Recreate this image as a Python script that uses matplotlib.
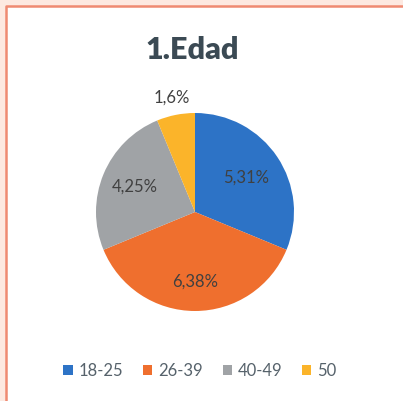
import numpy as np
import matplotlib
matplotlib.use("Agg")
import matplotlib.pyplot as plt
from matplotlib.patches import Rectangle, Patch
from matplotlib.lines import Line2D

plt.rcParams['font.family'] = ['Lato', 'DejaVu Sans']

# data
categories = ['18-25', '26-39', '40-49', '50']
sizes = [5.31, 6.38, 4.25, 1.06]          # slice sizes as measured from the angles
pct_labels = ['5,31%', '6,38%', '4,25%', '1,6%']
colors = ['#2d73c6', '#ef6f2e', '#a0a3a6', '#fbb42a']
label_dist = [0.62, 0.70, 0.66, 1.18]

W, H = 403, 401
fig = plt.figure(figsize=(W / 100, H / 100), dpi=100)
fig.patch.set_facecolor('#fde9e1')

# white panel, salmon border only on top and left
x0, y0 = 6 / W, 1 - 6 / H
fig.patches.append(Rectangle((x0, 0), 1 - x0, y0, transform=fig.transFigure,
                             facecolor='white', edgecolor='none', zorder=-5))
fig.lines.append(Line2D([x0, x0, 1], [0, y0, y0], transform=fig.transFigure,
                        color='#ef8a72', linewidth=1.8, zorder=-4))

ax = fig.add_axes([96 / W, 90 / H, 198 / W, 198 / H])
wedges, _ = ax.pie(sizes, colors=colors, startangle=90, counterclock=False,
                   radius=1, wedgeprops=dict(linewidth=0))
ax.set_xlim(-1, 1)
ax.set_ylim(-1, 1)
ax.set_aspect('auto')
ax.axis('off')

for w, txt, d in zip(wedges, pct_labels, label_dist):
    ang = np.deg2rad((w.theta1 + w.theta2) / 2)
    ax.text(d * np.cos(ang), d * np.sin(ang), txt, ha='center', va='center',
            fontsize=12, color='#404040')

fig.text(192 / W, 1 - 50 / H, '1.Edad', ha='center', va='center',
         fontsize=22, fontweight='heavy', color='#3b4a54')

handles = [Patch(facecolor=c, edgecolor='none') for c in colors]
fig.legend(handles, categories, loc='center', bbox_to_anchor=(200 / W, 1 - 371 / H),
           ncol=4, frameon=False, fontsize=12, handlelength=0.55, handleheight=0.55,
           handletextpad=0.35, columnspacing=1.2, labelcolor='#56626b')

fig.savefig('out.png', dpi=100)
